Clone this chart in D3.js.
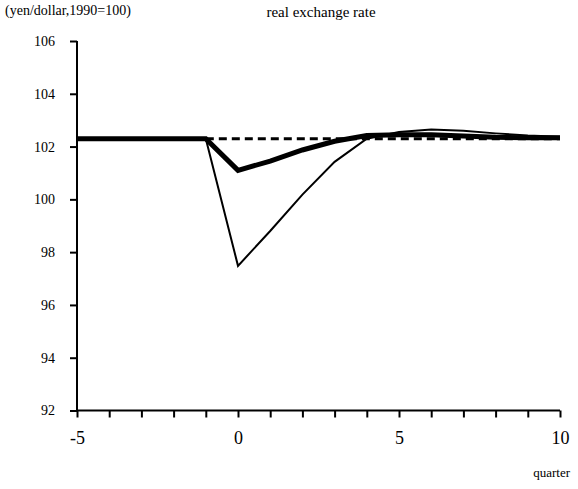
<!DOCTYPE html>
<html>
<head>
<meta charset="utf-8">
<script src="https://cdn.jsdelivr.net/npm/d3@7"></script>
<style>
  body { margin: 0; background: #fff; }
  text { font-family: "Liberation Serif", "Times New Roman", serif; fill: #000; }
</style>
</head>
<body>
<div id="chart-area"></div>
<script>
// quarters
const quarters = [-5, -4, -3, -2, -1, 0, 1, 2, 3, 4, 5, 6, 7, 8, 9, 10]
// thick line
const thickSeries = [102.3, 102.3, 102.3, 102.3, 102.3, 101.1, 101.45, 101.87, 102.2, 102.42, 102.45, 102.45, 102.4, 102.35, 102.33, 102.33]
// thin line
const thinSeries = [102.3, 102.3, 102.3, 102.3, 102.3, 97.48, 98.8, 100.18, 101.42, 102.3, 102.55, 102.65, 102.6, 102.5, 102.42, 102.37]
// dashed baseline, from quarter -1 onwards
const baseQuarters = [-1, 10]
const baseValue = 102.3
const yTicks = [92, 94, 96, 98, 100, 102, 104, 106]
const xLabels = [-5, 0, 5, 10]

const W = 578, H = 489
const MARGIN = { LEFT: 77, RIGHT: 18, TOP: 41, BOTTOM: 78.5 }

const svg = d3.select("#chart-area")
  .append("svg")
    .attr("width", W)
    .attr("height", H)

const x = d3.scaleLinear()
  .domain([-5, 10])
  .range([MARGIN.LEFT, W - MARGIN.RIGHT])

const y = d3.scaleLinear()
  .domain([92, 106])
  .range([H - MARGIN.BOTTOM, MARGIN.TOP])

// y axis
const yAxis = svg.append("g")
  .attr("transform", `translate(${MARGIN.LEFT}, 0)`)
  .call(d3.axisLeft(y).tickValues(yTicks).tickSize(7).tickPadding(15))
yAxis.selectAll("text").attr("font-size", "14px").attr("font-family", "Liberation Serif")
yAxis.selectAll("line, path").attr("stroke", "#000").attr("stroke-width", 2)
yAxis.select("path").attr("d", `M0,${y(92)}V${y(106)}`)

// x axis (ticks every quarter, labels every 5)
const xAxis = svg.append("g")
  .attr("transform", `translate(0, ${y(92)})`)
  .call(d3.axisBottom(x).tickValues(quarters).tickSize(7).tickPadding(14)
    .tickFormat(d => xLabels.includes(d) ? d : ""))
xAxis.selectAll("text").attr("font-size", "18px").attr("font-family", "Liberation Serif")
xAxis.selectAll("line, path").attr("stroke", "#000").attr("stroke-width", 2)
xAxis.select("path").attr("d", `M${x(-5)},0H${x(10)}`)

const line = d3.line()
  .x((d, i) => x(quarters[i]))
  .y(d => y(d))

// dashed baseline
svg.append("line")
  .attr("x1", x(baseQuarters[0]))
  .attr("x2", x(baseQuarters[1]))
  .attr("y1", y(baseValue))
  .attr("y2", y(baseValue))
  .attr("stroke", "#000")
  .attr("stroke-width", 3)
  .attr("stroke-dasharray", "8,5")

svg.append("path")
  .datum(thinSeries)
  .attr("d", line)
  .attr("fill", "none")
  .attr("stroke", "#000")
  .attr("stroke-width", 2)

svg.append("path")
  .datum(thickSeries)
  .attr("d", line)
  .attr("fill", "none")
  .attr("stroke", "#000")
  .attr("stroke-width", 5)
  .attr("stroke-linejoin", "miter")

// labels
svg.append("text")
  .attr("x", 5)
  .attr("y", 15)
  .attr("font-size", "14px")
  .text("(yen/dollar,1990=100)")

svg.append("text")
  .attr("x", 321)
  .attr("y", 17)
  .attr("font-size", "15px")
  .attr("text-anchor", "middle")
  .text("real exchange rate")

svg.append("text")
  .attr("x", 570)
  .attr("y", 477)
  .attr("font-size", "13px")
  .attr("text-anchor", "end")
  .text("quarter")
</script>
</body>
</html>
